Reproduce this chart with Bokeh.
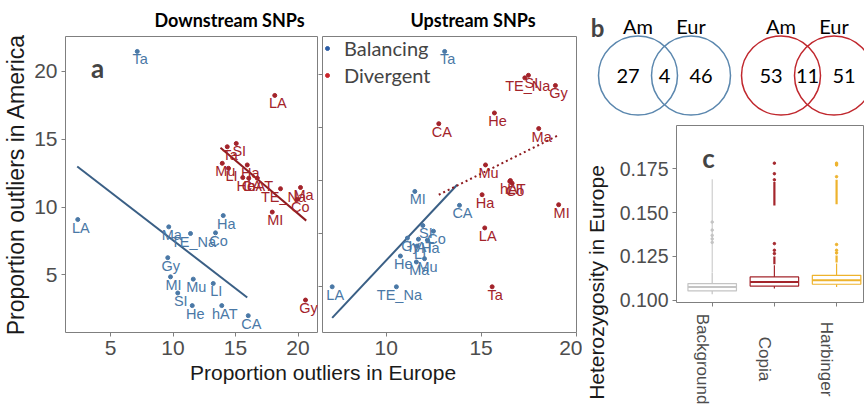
import math
from bokeh.plotting import figure
from bokeh.models import (Range1d, FixedTicker, Label, Legend, LegendItem, Div,
                          NumeralTickFormatter)
from bokeh.layouts import row, column
from bokeh.embed import file_html
from bokeh.resources import INLINE
from bokeh.core.properties import value

# ---------------- data ----------------
te_names = ["Ta", "LA", "Ma", "TE_Na", "Co", "Ha", "Gy", "MI", "Mu", "LI", "SI", "He", "hAT", "CA"]

# Downstream SNPs (panel a, left)
down_bal_x = [7.14, 2.38, 9.66, 11.40, 13.40, 14.02, 9.58, 9.80, 11.62, 13.22, 10.38, 11.54, 13.90, 16.02]
down_bal_y = [21.46, 9.08, 8.54, 8.05, 8.10, 9.37, 6.27, 4.86, 4.69, 4.37, 3.67, 2.74, 2.74, 2.00]
down_div_x = [14.34, 18.14, 20.20, 18.60, 19.94, 15.94, 20.60, 17.94, 13.94, 14.44, 15.06, 15.58, 16.74, 16.06]
down_div_y = [14.44, 18.22, 11.44, 11.35, 10.56, 13.10, 3.15, 9.63, 13.22, 12.85, 14.68, 12.17, 12.12, 12.12]

# Upstream SNPs (panel a, right)
up_bal_x = [13.08, 7.16, 11.59, 10.54, 12.49, 12.17, 11.12, 11.51, 12.02, 11.63, 11.93, 10.75, 11.70, 13.86]
up_bal_y = [27.19, 5.00, 7.34, 5.00, 10.24, 9.40, 9.59, 13.99, 7.65, 8.84, 10.78, 7.90, 9.49, 12.68]
up_div_x = [15.58, 15.19, 18.03, 17.30, 16.63, 15.05, 18.91, 19.08, 15.23, 16.54, 17.49, 15.70, 16.51, 12.77]
up_div_y = [5.00, 10.55, 19.92, 24.70, 14.77, 13.68, 23.98, 12.74, 16.49, 15.02, 24.94, 21.39, 14.93, 20.38]

# fitted regression lines (end points)
down_bal_fit_x = [2.34, 15.94]
down_bal_fit_y = [12.98, 3.34]
down_div_fit_x = [13.80, 20.66]
down_div_fit_y = [14.37, 9.00]
up_bal_fit_x = [7.16, 13.74]
up_bal_fit_y = [2.07, 14.62]
up_div_fit_x = [12.77, 19.08]
up_div_fit_y = [13.68, 19.30]

a_xticks = [5, 10, 15, 20]
a_yticks = [5, 10, 15, 20]
b_xticks = [10, 15, 20]
b_yticks = [5, 10, 15, 20, 25]

# Venn diagrams (panel b)
venn_groups = ["Balancing", "Divergent"]
venn_set_labels = ["Am", "Eur"]
venn_only_am = [27, 53]
venn_shared = [4, 11]
venn_only_eur = [46, 51]

# Boxplots (panel c)
box_cats = ["Background", "Copia", "Harbinger"]
box_q1 = [0.1053, 0.1081, 0.1091]
box_med = [0.1076, 0.1104, 0.1114]
box_q3 = [0.1095, 0.1133, 0.1142]
box_wlo = [0.1034, 0.1067, 0.1076]
box_whi = [0.1158, 0.1200, 0.1210]
# dense runs of outliers (they appear as solid columns): low / high ends
dense_lo = [[0.1160], [0.1205, 0.1541], [0.1215, 0.1547]]
dense_hi = [[0.1690], [0.1250, 0.1674], [0.1255, 0.1687]]
# isolated outliers
outliers = [[0.1330, 0.1350, 0.1370, 0.1400, 0.1446],
            [0.1266, 0.1285, 0.1323, 0.1687, 0.1722, 0.1782],
            [0.1270, 0.1285, 0.1318, 0.1705, 0.1772, 0.1782]]
box_yticks = [0.100, 0.125, 0.150, 0.175]

# ---------------- style ----------------
BLUE_TXT = "#4A78A6"
BLUE_LINE = "#3A5F85"
RED_TXT = "#A3232A"
RED_LINE = "#8E1B1F"
LEG_BLUE = "#2B5DA6"
LEG_RED = "#C9252B"
VENN_BLUE = "#5B87AE"
VENN_RED = "#C0282E"
BOX_COLS = ["#C4C4C4", "#A4262C", "#EEB32D"]
FRAME_GREY = "#7F7F7F"
TICK_GREY = "#4D4D4D"
SANS = "Liberation Sans"


def style_axes(p, label_size="21px"):
    p.grid.visible = False
    p.outline_line_color = FRAME_GREY
    p.outline_line_width = 1
    for ax in list(p.xaxis) + list(p.yaxis):
        ax.axis_line_color = None
        ax.major_tick_line_color = FRAME_GREY
        ax.major_tick_out = 4
        ax.major_tick_in = 0
        ax.minor_tick_line_color = None
        ax.major_label_text_font = SANS
        ax.major_label_text_font_size = label_size
        ax.major_label_text_color = TICK_GREY
        ax.major_label_standoff = 4


def scatter_panel(width, xr, yr, xticks, yticks, title, offset, min_left, min_right,
                  bx, by, dx, dy, bfit, dfit, div_dash):
    p = figure(width=width, height=366, x_range=Range1d(*xr), y_range=Range1d(*yr),
               output_backend="svg", toolbar_location=None, frame_align=False,
               min_border_left=min_left, min_border_right=min_right,
               min_border_top=34, min_border_bottom=34)
    style_axes(p)
    p.xaxis.ticker = FixedTicker(ticks=xticks)
    p.yaxis.ticker = FixedTicker(ticks=yticks)
    p.title.text = title
    p.title.align = "left"
    p.title.offset = offset
    p.title.text_font = "Lato"
    p.title.text_font_style = "bold"
    p.title.text_font_size = "18px"
    p.title.text_color = "black"
    p.title.standoff = 12

    p.line(bfit[0], bfit[1], line_color=BLUE_LINE, line_width=2)
    p.line(dfit[0], dfit[1], line_color=RED_LINE, line_width=2, line_dash=div_dash)

    for xs, ys, col in ((bx, by, BLUE_TXT), (dx, dy, RED_TXT)):
        p.scatter(xs, ys, size=4, color=col)
        p.text(xs, ys, text=te_names, text_color=col,
               text_font=value(SANS), text_font_size=value("14.5px"),
               text_align="center", text_baseline="top", x_offset=3, y_offset=0)
    return p


pa = scatter_panel(318, (1.4, 21.64), (0.76, 22.56), a_xticks, a_yticks,
                   "Downstream SNPs", 89, 65, 0,
                   down_bal_x, down_bal_y, down_div_x, down_div_y,
                   (down_bal_fit_x, down_bal_fit_y), (down_div_fit_x, down_div_fit_y), "solid")
pa.yaxis.axis_label = "Proportion outliers in America"
pa.yaxis.axis_label_text_font = SANS
pa.yaxis.axis_label_text_font_style = "normal"
pa.yaxis.axis_label_text_font_size = "23px"
pa.yaxis.axis_label_text_color = "#1A1A1A"
pa.yaxis.axis_label_standoff = 2
pa.add_layout(Label(x=3.96, y=20.22, text="a", text_font="Lato", text_font_style="bold",
                    text_font_size="26px", text_align="center", text_baseline="middle"))

pb = scatter_panel(264, (6.65, 20.02), (0.69, 28.6), b_xticks, b_yticks,
                   "Upstream SNPs", 88, 0, 6,
                   up_bal_x, up_bal_y, up_div_x, up_div_y,
                   (up_bal_fit_x, up_bal_fit_y), (up_div_fit_x, up_div_fit_y), "2 3")
pb.yaxis.major_label_overrides = {t: "" for t in b_yticks}
pb.yaxis.major_label_standoff = 0

nan = float("nan")
lb = pb.scatter(x=[nan], y=[nan], size=7, color=LEG_BLUE)
lr = pb.scatter(x=[nan], y=[nan], size=7, color=LEG_RED)
legend = Legend(items=[LegendItem(label=venn_groups[0], renderers=[lb]),
                       LegendItem(label=venn_groups[1], renderers=[lr])],
                location="top_left", margin=0, padding=1, spacing=3,
                glyph_width=10, glyph_height=20, label_height=20, label_standoff=12,
                label_text_font="Lato", label_text_font_size="20px",
                background_fill_alpha=0, border_line_color=None)
pb.add_layout(legend)

xlabel = Div(text='<div style="font-family:\'Liberation Sans\',Arial,sans-serif;'
                  'font-size:21px;color:#1A1A1A;padding-left:190px;line-height:22px;'
                  'margin-top:-4px;white-space:nowrap;">Proportion outliers in Europe</div>',
             width=582, height=38, margin=0)

left_block = column(row(pa, pb), xlabel)

# ---------------- Venn (panel b) ----------------
VW, VH = 282, 120
v = figure(width=VW, height=VH, x_range=Range1d(0, VW), y_range=Range1d(VH, 0),
           x_axis_type=None, y_axis_type=None, min_border=0, frame_align=False,
           output_backend="svg", toolbar_location=None)
v.grid.visible = False
v.outline_line_color = None
venn_left_cx = [55.5, 198.5]
venn_dist = 53
venn_r = 39.5
venn_cy = 75
venn_cols = [VENN_BLUE, VENN_RED]
for g in range(2):
    cx1 = venn_left_cx[g]
    cx2 = cx1 + venn_dist
    v.circle(x=[cx1, cx2], y=[venn_cy, venn_cy], radius=venn_r, fill_color=None,
             line_color=venn_cols[g], line_width=1.5)
    v.text(x=[cx1, cx2], y=[25, 25], text=venn_set_labels, text_font=value("Lato"),
           text_font_size=value("20px"), text_align="center", text_baseline="middle",
           text_color="black")
    v.text(x=[cx1 - 10, (cx1 + cx2) / 2, cx2 + 10], y=[venn_cy] * 3,
           text=[str(venn_only_am[g]), str(venn_shared[g]), str(venn_only_eur[g])],
           text_font=value("Lato"), text_font_size=value("20px"), text_align="center",
           text_baseline="middle", text_color="black")
v.add_layout(Label(x=15, y=27, text="b", text_font="Lato", text_font_style="bold",
                   text_font_size="24px", text_align="center", text_baseline="alphabetic"))

# ---------------- Boxplot (panel c) ----------------
BH = 193
box_xr = Range1d(-0.074, 2.949)
bp = figure(width=252, height=BH, x_range=box_xr, y_range=Range1d(0.0987, 0.1997),
            output_backend="svg", toolbar_location=None, frame_align=False,
            min_border_left=64, min_border_right=0, min_border_top=5, min_border_bottom=11)
style_axes(bp, "19.5px")
bp.yaxis.ticker = FixedTicker(ticks=box_yticks)
bp.yaxis.formatter = NumeralTickFormatter(format="0.000")
bp.xaxis.ticker = FixedTicker(ticks=[i + 0.5 for i in range(len(box_cats))])
bp.xaxis.major_label_overrides = {i + 0.5: "" for i in range(len(box_cats))}
bp.xaxis.major_label_text_font_size = "2px"
bp.xaxis.major_label_standoff = 0

bx = [i + 0.5 for i in range(len(box_cats))]
bw = 0.78
for i, cat_name in enumerate(box_cats):
    col = BOX_COLS[i]
    x = bx[i]
    for lo, hi in zip(dense_lo[i], dense_hi[i]):
        bp.segment(x0=[x], y0=[lo], x1=[x], y1=[hi], line_color=col,
                   line_width=1.0 if i == 0 else 2.2)
    bp.scatter([x] * len(outliers[i]), outliers[i], size=2.5, color=col)
    bp.segment(x0=[x, x], y0=[box_q3[i], box_q1[i]], x1=[x, x], y1=[box_whi[i], box_wlo[i]],
               line_color=col, line_width=1.2)
    bp.vbar(x=[x], width=bw, top=[box_q3[i]], bottom=[box_q1[i]], fill_color="white",
            line_color=col, line_width=1.2)
    bp.segment(x0=[x - bw / 2], y0=[box_med[i]], x1=[x + bw / 2], y1=[box_med[i]],
               line_color=col, line_width=2)
bp.add_layout(Label(x=0.44, y=0.1814, text="c", text_font="Lato", text_font_style="bold",
                    text_font_size="26px", text_align="center", text_baseline="middle"))

# category names, rotated, under the boxplot (same x scale)
CH = 91
cat = figure(width=252, height=CH, x_range=box_xr, y_range=Range1d(CH, 0),
             x_axis_type=None, y_axis_type=None, frame_align=False,
             min_border_left=64, min_border_right=0, min_border_top=0, min_border_bottom=0,
             output_backend="svg", toolbar_location=None)
cat.grid.visible = False
cat.outline_line_color = None
cat.text(x=bx, y=[45.5] * len(bx), text=box_cats, angle=-math.pi / 2, x_offset=-10,
         text_align="center", text_baseline="middle", text_font=value(SANS),
         text_font_size=value("17px"), text_color=TICK_GREY)

# y-axis title of the boxplot (runs past the panel, as in the original)
YH = BH + CH
ylab = figure(width=30, height=YH, x_range=Range1d(0, 30), y_range=Range1d(YH, 0),
              x_axis_type=None, y_axis_type=None, min_border=0, frame_align=False,
              output_backend="svg", toolbar_location=None)
ylab.grid.visible = False
ylab.outline_line_color = None
ylab.text(x=[14], y=[162], text=["Heterozygosity in Europe"], angle=math.pi / 2,
          text_align="center", text_baseline="middle", text_font=value(SANS),
          text_font_size=value("21px"), text_color="#1A1A1A")

right_block = column(v, row(ylab, column(bp, cat)))

layout = row(left_block, right_block)
open("out.html", "w").write(file_html(layout, INLINE))
